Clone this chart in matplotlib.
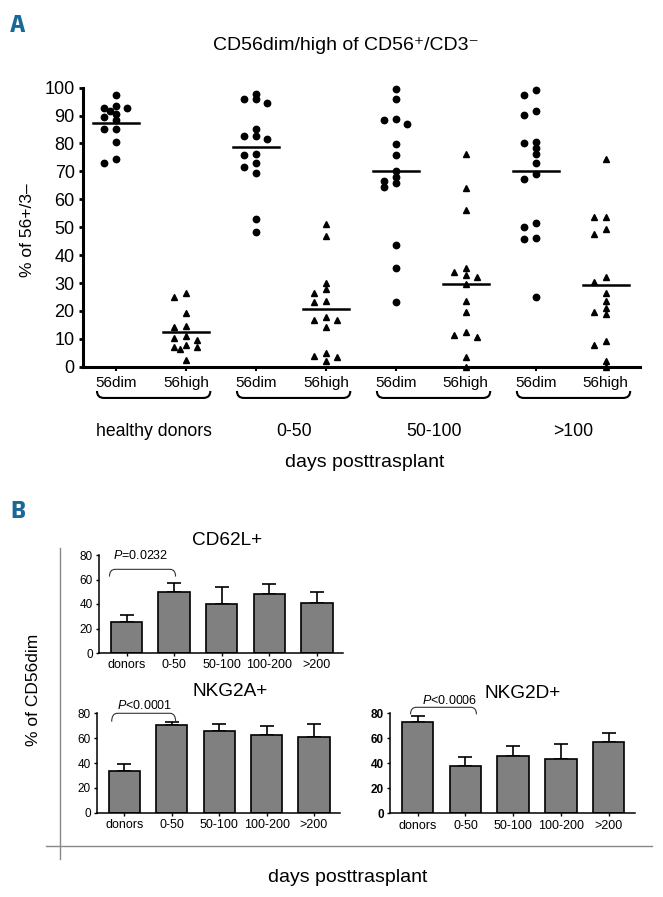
import numpy as np
import matplotlib
matplotlib.use('Agg')
import matplotlib.pyplot as plt
from matplotlib.path import Path
from matplotlib.patches import PathPatch
from matplotlib.lines import Line2D
import matplotlib.transforms as mtransforms

FONTS = ['Liberation Sans', 'DejaVu Sans']
plt.rcParams['font.family'] = FONTS
plt.rcParams['mathtext.fontset'] = 'custom'
plt.rcParams['mathtext.rm'] = 'Liberation Sans'
plt.rcParams['mathtext.it'] = 'Liberation Sans:italic'
LETTER_FONT = ['Saira SemiCondensed', 'Archivo Narrow', 'DejaVu Sans']

# ---------------- Panel A data ----------------
groups_A = ['healthy donors', '0-50', '50-100', '>100']
subsets_A = ['56dim', '56high']
hd_dim = [97.4, 92.6, 91.6, 93.3, 92.6, 88.6, 90.6, 89.6, 85.2, 85.2, 80.4, 73.1, 74.6]
hd_high = [25.1, 26.5, 19.4, 14.3, 14.6, 11.0, 10.4, 9.6, 7.2, 7.0, 7.6, 6.4, 2.4]
d0_50_dim = [97.8, 96.1, 94.5, 95.8, 85.2, 82.7, 81.6, 82.7, 76.3, 75.8, 73.1, 71.5,
             69.5, 52.9, 48.2]
d0_50_high = [51.2, 46.8, 30.0, 26.4, 28.0, 23.3, 23.7, 17.7, 16.9, 16.9, 14.4, 3.9,
              5.0, 3.6, 1.9]
d50_100_dim = [99.6, 96.1, 88.9, 87.1, 88.3, 79.9, 76.0, 70.1, 67.9, 65.9, 64.4, 66.7,
               43.7, 35.4, 23.1]
d50_100_high = [76.3, 64.0, 56.0, 33.9, 32.1, 35.3, 32.9, 29.7, 23.7, 19.7, 11.4, 10.8,
                12.6, 3.6, 0.0]
d100_dim = [99.3, 97.5, 90.3, 91.5, 80.1, 80.5, 78.5, 76.1, 73.1, 69.1, 67.3, 50.2,
            51.6, 46.2, 45.8, 24.9]
d100_high = [74.5, 53.6, 53.8, 49.2, 47.6, 32.1, 30.5, 26.4, 23.7, 20.9, 18.9, 19.5,
             9.3, 7.8, 2.2, 0.0]
series_A = [hd_dim, hd_high, d0_50_dim, d0_50_high, d50_100_dim, d50_100_high,
            d100_dim, d100_high]
ylabel_A = '% of 56+/3\u2013'
title_A = 'CD56dim/high of CD56\u207a/CD3\u207b'
xlabel = 'days posttrasplant'

# ---------------- Panel B data ----------------
cats_B = ['donors', '0-50', '50-100', '100-200', '>200']
cd62l_mean = [24.9, 49.4, 40.1, 48.0, 41.2]
cd62l_err = [6.3, 8.1, 13.6, 8.1, 8.4]
nkg2a_mean = [33.8, 70.3, 66.0, 62.3, 60.9]
nkg2a_err = [5.1, 3.0, 5.7, 7.2, 10.8]
nkg2d_mean = [73.3, 37.9, 45.9, 43.7, 57.3]
nkg2d_err = [4.6, 7.4, 8.0, 11.5, 6.7]
p_cd62l = '$\\it{P}$=0.0232'
p_nkg2a = '$\\it{P}$<0.0001'
p_nkg2d = '$\\it{P}$<0.0006'

W, H = 663, 897
fig = plt.figure(figsize=(W / 100, H / 100), dpi=100)
BLUE = '#18699a'


def fx(px):
    return px / W


def fy(py):
    return 1 - py / H


# ================= Panel A =================
axA = fig.add_axes([fx(83), fy(366.7), fx(640) - fx(83), 279 / H])
axA.set_xlim(0.53, 8.49)
axA.set_ylim(0, 100)
for s in ['top', 'right']:
    axA.spines[s].set_visible(False)
for s in ['left', 'bottom']:
    axA.spines[s].set_linewidth(2.2)
axA.set_yticks(np.arange(0, 101, 10))
axA.tick_params(axis='y', direction='out', length=3, width=2, labelsize=13, pad=3)
positions = np.arange(1, len(series_A) + 1)
axA.set_xticks(positions)
axA.set_xticklabels(subsets_A * len(groups_A))
axA.tick_params(axis='x', direction='out', length=3, width=1.5, labelsize=11, pad=4)

p0 = axA.transData.transform((0, 0))
p1 = axA.transData.transform((1, 1))
sx, sy = p1[0] - p0[0], p1[1] - p0[1]
STEP_PX = 5.8
step = STEP_PX / sx


def swarm(values, min_px=5.5):
    placed = []
    order = np.argsort(-np.asarray(values))
    res = np.zeros(len(values))
    for i in order:
        v = values[i]
        for k in [0, -2, 2, -1, 1, -3, 3, -4, 4]:
            ok = True
            for (kk, vv) in placed:
                d = np.hypot((k - kk) * STEP_PX, (v - vv) * sy)
                if d < min_px:
                    ok = False
                    break
            if ok:
                placed.append((k, v))
                res[i] = k * step
                break
    return res


for i, vals in enumerate(series_A):
    xs = positions[i] + swarm(vals)
    marker = 'o' if i % 2 == 0 else '^'
    axA.plot(xs, vals, linestyle='none', marker=marker, color='black',
             markersize=4.6, clip_on=False, zorder=3)
    m = np.mean(vals)
    axA.plot([positions[i] - 0.33, positions[i] + 0.33], [m, m], color='black',
             lw=1.8, zorder=4)

trA = mtransforms.blended_transform_factory(axA.transData, axA.transAxes)
for g, name in enumerate(groups_A):
    c = positions[2 * g] + 0.5 + 0.04
    x0, x1 = c - 0.81, c + 0.81
    top, bot, r = -0.087, -0.112, 0.1
    verts = [(x0, top), (x0, bot), (x0 + r, bot), (x1 - r, bot), (x1, bot), (x1, top)]
    codes = [Path.MOVETO, Path.CURVE3, Path.CURVE3, Path.LINETO, Path.CURVE3, Path.CURVE3]
    axA.add_patch(PathPatch(Path(verts, codes), transform=trA, facecolor='none',
                            edgecolor='black', lw=1.5, clip_on=False))
    axA.text(c, -0.234, name, transform=trA, ha='center', va='center', fontsize=12.7)
axA.text(0.505, -0.342, xlabel, transform=axA.transAxes, ha='center', va='center',
         fontsize=14)
fig.text(fx(28), fy(230), ylabel_A, rotation=90, ha='center', va='center', fontsize=12.5)
fig.text(fx(346), fy(45), title_A, ha='center', va='center', fontsize=14)
fig.text(fx(18), fy(25), 'A', ha='center', va='center', fontsize=18.5,
         fontweight='bold', color=BLUE, family=LETTER_FONT)

# ================= Panel B =================


def bar_panel(rect, means, errs, title, title_xy, ptxt, p_x, p_y, br, bold_y=False):
    ax = fig.add_axes(rect)
    x = np.arange(len(cats_B))
    ax.bar(x, means, width=0.66, color='#808080', edgecolor='black', linewidth=1.2,
           zorder=2)
    ax.errorbar(x, means, yerr=[np.zeros(len(errs)), errs], fmt='none', ecolor='black',
                elinewidth=1.2, capsize=5, capthick=1.2, zorder=1)
    ax.set_xlim(-0.58, 4.55)
    ax.set_ylim(0, 80)
    ax.set_yticks([0, 20, 40, 60, 80])
    ax.set_xticks(x)
    ax.set_xticklabels(cats_B)
    for s in ['top', 'right']:
        ax.spines[s].set_visible(False)
    for s in ['left', 'bottom']:
        ax.spines[s].set_linewidth(1.1)
    ax.tick_params(direction='out', length=2.5, width=1.0, pad=2)
    ax.tick_params(axis='x', labelsize=9)
    ax.tick_params(axis='y', labelsize=8.5)
    if bold_y:
        for lab in ax.get_yticklabels():
            lab.set_fontweight('bold')
    fig.text(title_xy[0], title_xy[1], title, ha='center', va='center', fontsize=13.7)
    ax.text(p_x, p_y, ptxt, ha='left', va='center', fontsize=9, clip_on=False)
    x0, x1, ytop, ybot = br
    dx = 0.12
    verts = [(x0, ybot), (x0, ytop), (x0 + dx, ytop), (x1 - dx, ytop), (x1, ytop),
             (x1, ybot)]
    codes = [Path.MOVETO, Path.CURVE3, Path.CURVE3, Path.LINETO, Path.CURVE3, Path.CURVE3]
    ax.add_patch(PathPatch(Path(verts, codes), facecolor='none', edgecolor='#333333',
                           lw=0.8, clip_on=False))
    return ax


bar_panel([fx(99), fy(653), 244 / W, 98 / H], cd62l_mean, cd62l_err, 'CD62L+',
          (fx(227), fy(540)), p_cd62l, -0.28, 79.2, (-0.36, 1.03, 68.3, 62.4))
bar_panel([fx(97), fy(812.7), 243 / W, 99.4 / H], nkg2a_mean, nkg2a_err, 'NKG2A+',
          (fx(230), fy(692)), p_nkg2a, -0.15, 86, (-0.27, 1.08, 80, 73.3))
bar_panel([fx(390), fy(813.3), 245 / W, 100 / H], nkg2d_mean, nkg2d_err, 'NKG2D+',
          (fx(523), fy(693)), p_nkg2d, 0.09, 90, (-0.15, 1.23, 84.8, 79.2), bold_y=True)

fig.add_artist(Line2D([fx(60), fx(60)], [fy(548), fy(859)], transform=fig.transFigure,
                      color='#888888', lw=1))
fig.add_artist(Line2D([fx(46), fx(652)], [fy(846), fy(846)], transform=fig.transFigure,
                      color='#888888', lw=1))
fig.text(fx(33), fy(690), '% of CD56dim', rotation=90, ha='center', va='center',
         fontsize=12.5)
fig.text(fx(348), fy(877), xlabel, ha='center', va='center', fontsize=14)
fig.text(fx(18), fy(511), 'B', ha='center', va='center', fontsize=18.5,
         fontweight='bold', color=BLUE, family=LETTER_FONT)

fig.savefig('out.png', dpi=100)
